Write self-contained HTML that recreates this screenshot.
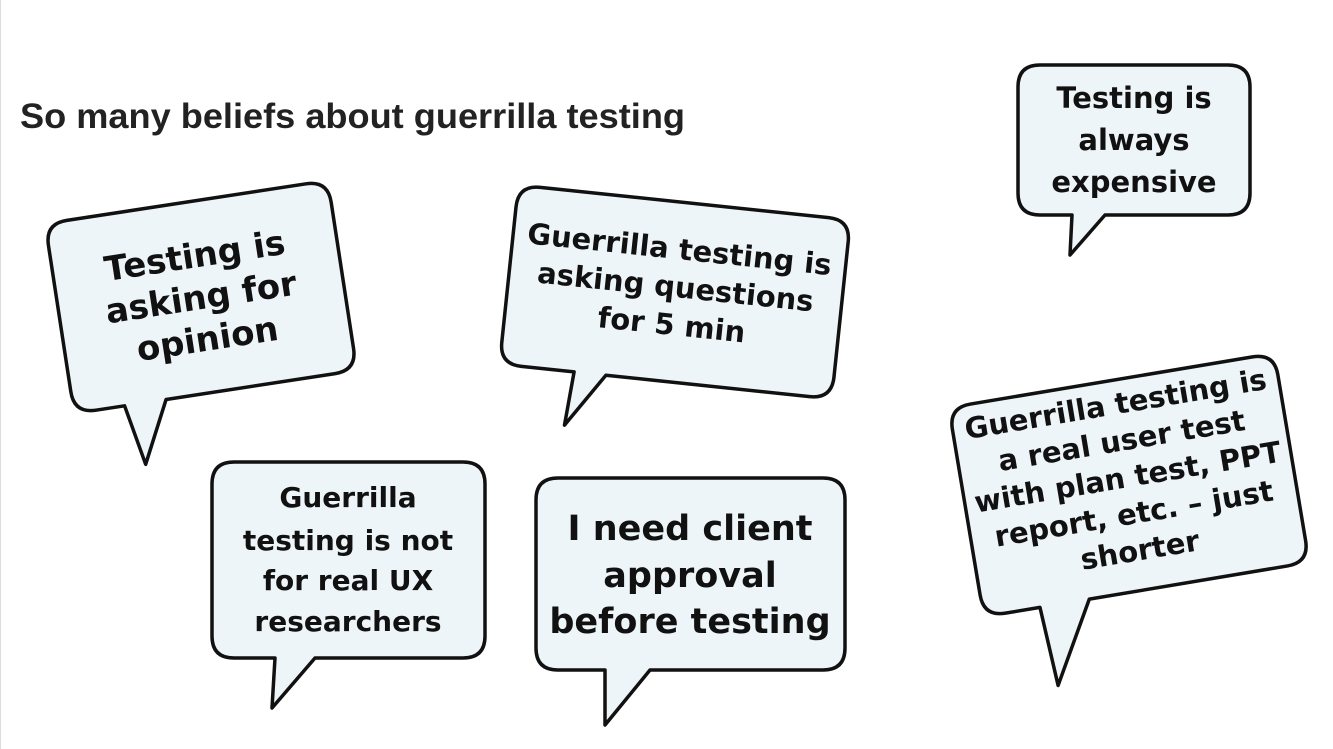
<!DOCTYPE html>
<html><head><meta charset="utf-8"><style>
html,body{margin:0;padding:0;background:#fff;}
svg{display:block;}
.b{fill:#eef5f9;stroke:#111;stroke-width:3.5;stroke-linejoin:round;}
text{font-family:"DejaVu Sans","Liberation Sans",sans-serif;font-weight:bold;fill:#111;text-anchor:middle;}
</style></head><body>
<svg width="1333" height="749" viewBox="0 0 1333 749" xmlns="http://www.w3.org/2000/svg">
<rect x="0" y="0" width="1333" height="749" fill="#fff"/>
<line x1="0.5" y1="0" x2="0.5" y2="749" stroke="#ddd"/>
<text x="20" y="128" textLength="665" lengthAdjust="spacingAndGlyphs" style="text-anchor:start;font-family:'Liberation Sans',sans-serif;font-size:35px;fill:#222">So many beliefs about guerrilla testing</text>

<!-- bubble 1 -->
<g transform="translate(201,297) rotate(-8.7)">
<path class="b" d="M -121,-96 H 121 Q 143,-96 143,-74 V 74 Q 143,96 121,96 H -50 L -80,157 L -92,96 H -121 Q -143,96 -143,74 V -74 Q -143,-96 -121,-96 Z"/>
<g style="font-size:34px">
<text x="0" y="-30">Testing is</text>
<text x="0" y="12">asking for</text>
<text x="0" y="54">opinion</text>
</g></g>

<!-- bubble 2 -->
<g transform="translate(675,292) rotate(6)">
<path class="b" d="M -145,-90 H 145 Q 167,-90 167,-68 V 68 Q 167,90 145,90 H -60 L -96,144 L -92,90 H -145 Q -167,90 -167,68 V -68 Q -167,-90 -145,-90 Z"/>
<g style="font-size:29px">
<text x="0" y="-33">Guerrilla testing is</text>
<text x="0" y="5">asking questions</text>
<text x="0" y="43">for 5 min</text>
</g></g>

<!-- bubble 3 -->
<path class="b" d="M 1040,65 H 1228 Q 1250,65 1250,87 V 193 Q 1250,215 1228,215 H 1105 L 1070,255 L 1072,215 H 1040 Q 1018,215 1018,193 V 87 Q 1018,65 1040,65 Z"/>
<g style="font-size:29px">
<text x="1134" y="108">Testing is</text>
<text x="1134" y="150">always</text>
<text x="1134" y="192">expensive</text>
</g>

<!-- bubble 4 -->
<path class="b" d="M 234,462 H 463 Q 485,462 485,484 V 636 Q 485,658 463,658 H 315 L 272,708 L 275,658 H 234 Q 212,658 212,636 V 484 Q 212,462 234,462 Z"/>
<g style="font-size:28px">
<text x="348" y="507">Guerrilla</text>
<text x="348" y="550">testing is not</text>
<text x="348" y="590">for real UX</text>
<text x="348" y="631">researchers</text>
</g>

<!-- bubble 5 -->
<path class="b" d="M 558,478 H 823 Q 845,478 845,500 V 648 Q 845,670 823,670 H 650 L 605,725 L 605,670 H 558 Q 536,670 536,648 V 500 Q 536,478 558,478 Z"/>
<g style="font-size:35px">
<text x="690" y="540">I need client</text>
<text x="690" y="587">approval</text>
<text x="690" y="633">before testing</text>
</g>

<!-- bubble 6 -->
<g transform="translate(1129,485) rotate(-9.5)">
<path class="b" d="M -143,-106 H 143 Q 165,-106 165,-84 V 84 Q 165,106 143,106 H -58 L -103,186 L -108,106 H -143 Q -165,106 -165,84 V -84 Q -165,-106 -143,-106 Z"/>
<g style="font-size:29px">
<text x="0" y="-72">Guerrilla testing is</text>
<text x="0" y="-35">a real user test</text>
<text x="0" y="2">with plan test, PPT</text>
<text x="0" y="39">report, etc. – just</text>
<text x="0" y="76">shorter</text>
</g></g>
</svg>
</body></html>
